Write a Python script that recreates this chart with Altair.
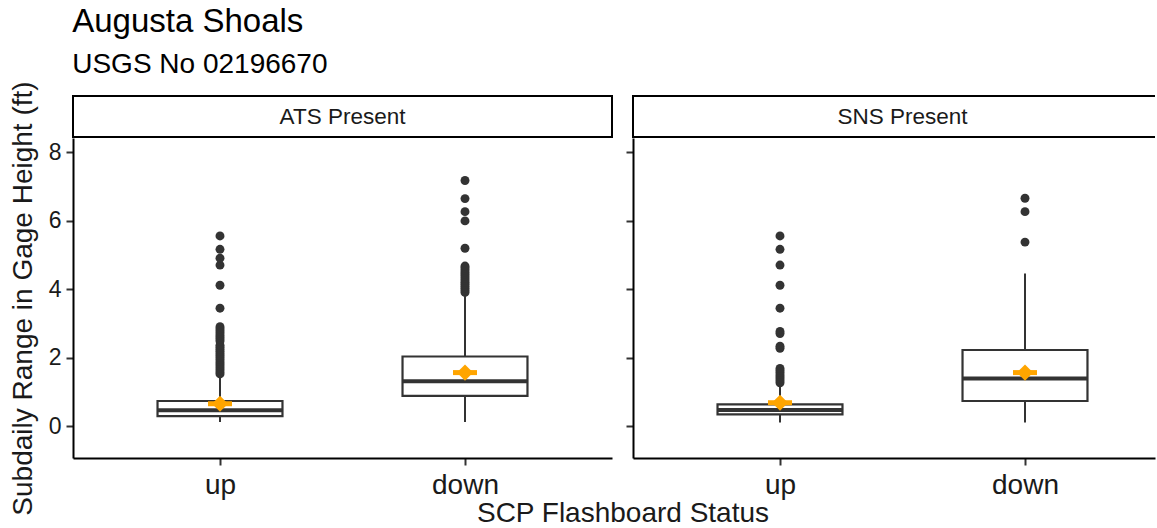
import altair as alt
import pandas as pd

FONT = "Liberation Sans"

panels = ["ATS Present", "SNS Present"]
groups = ["up", "down"]

# box summaries per panel, ordered as in `groups`
q1 = [[0.29, 0.88], [0.34, 0.73]]
median = [[0.46, 1.31], [0.47, 1.39]]
q3 = [[0.73, 2.03], [0.63, 2.22]]
whisker_lo = [[0.12, 0.12], [0.10, 0.10]]
whisker_hi = [[1.49, 3.85], [1.16, 4.45]]
mean = [[0.65, 1.56], [0.68, 1.56]]

# points beyond the whiskers
outliers_ats_up = [1.52, 1.58, 1.64, 1.70, 1.76, 1.82, 1.88, 1.94, 2.00, 2.06,
                   2.12, 2.18, 2.24, 2.30, 2.36, 2.48, 2.54, 2.60, 2.66, 2.72,
                   2.78, 2.84, 2.90, 3.44, 4.11, 4.70, 4.90, 5.16, 5.55]
outliers_ats_down = [3.90, 3.96, 4.02, 4.08, 4.14, 4.20, 4.26, 4.32, 4.38, 4.44,
                     4.50, 4.56, 4.62, 4.67, 5.19, 5.99, 6.26, 6.64, 7.17]
outliers_sns_up = [1.26, 1.32, 1.38, 1.44, 1.50, 1.56, 1.62, 1.68, 2.27, 2.33,
                   2.70, 2.76, 3.44, 4.11, 4.70, 5.16, 5.55]
outliers_sns_down = [5.37, 6.26, 6.65]

outliers = [[outliers_ats_up, outliers_ats_down],
            [outliers_sns_up, outliers_sns_down]]

y_ticks = [0, 2, 4, 6, 8]
y_domain = [-0.934, 8.41]

PANEL_W = 539      # full panel width in px
PANEL_H = 320
BOX_HALF = 0.255   # half box width, x units
MEAN_HALF = 0.049  # half width of the mean bar, x units
INK = "#333333"
TEXT = "#1a1a1a"


def panel(i, width, first):
    pos = [1, 2]
    summ = pd.DataFrame({
        "group": groups,
        "pos": pos,
        "xl": [p - BOX_HALF for p in pos],
        "xr": [p + BOX_HALF for p in pos],
        "ml": [p - MEAN_HALF for p in pos],
        "mr": [p + MEAN_HALF for p in pos],
        "q1": q1[i], "median": median[i], "q3": q3[i],
        "lo": whisker_lo[i], "hi": whisker_hi[i], "mean": mean[i],
    })
    pts = pd.DataFrame(
        [{"pos": pos[g], "value": v} for g in range(2) for v in outliers[i][g]]
    )

    xs = alt.Scale(domain=[0.4, 0.4 + 2.2 * width / PANEL_W], nice=False, zero=False)
    ys = alt.Scale(domain=y_domain, nice=False, zero=False)
    label_expr = "[" + ",".join(f"'{g}'" for g in groups) + "][datum.value - 1]"
    xaxis = alt.Axis(
        values=pos, labelExpr=label_expr, labelFontSize=28, labelColor=TEXT,
        labelFont=FONT, labelPadding=6, tickSize=7, tickWidth=2, tickColor=INK,
        domainColor="black", domainWidth=2, grid=False,
        title="SCP Flashboard Status" if first else None,
        titleFont=FONT, titleFontSize=28, titleFontWeight="normal", titleColor=TEXT,
        titleX=(PANEL_W * 2 + 21) / 2, titleY=63, titleBaseline="alphabetic",
        titleAlign="center", titleAnchor="start",
    )
    yaxis = alt.Axis(
        values=y_ticks, labels=first, labelFontSize=23, labelColor=TEXT,
        labelFont=FONT, labelPadding=5, tickSize=7, tickWidth=2, tickColor=INK,
        domainColor="black", domainWidth=2, grid=False,
        title="Subdaily Range in Gage Height (ft)" if first else None,
        titleFont=FONT, titleFontSize=28, titleFontWeight="normal", titleColor=TEXT,
        titlePadding=11,
    )

    def X(f):
        return alt.X(f, type="quantitative", scale=xs, axis=xaxis)

    def Y(f):
        return alt.Y(f, type="quantitative", scale=ys, axis=yaxis)

    base = alt.Chart(summ)
    whisk = base.mark_rule(color=INK, strokeWidth=2).encode(
        x=X("pos"), y=Y("lo"), y2="hi")
    box = base.mark_rect(fill="white", stroke=INK, strokeWidth=2.2).encode(
        x=X("xl"), x2="xr", y=Y("q1"), y2="q3")
    med = base.mark_rule(color=INK, strokeWidth=4).encode(
        x=X("xl"), x2="xr", y=Y("median"))
    dots = alt.Chart(pts).mark_circle(size=80, color=INK, opacity=1).encode(
        x=X("pos"), y=Y("value"))
    mbar = base.mark_rule(color="#FFA500", strokeWidth=5).encode(
        x=X("ml"), x2="mr", y=Y("mean"))
    mdot = base.mark_point(shape="diamond", filled=True, size=260,
                           color="#FFA500", opacity=1).encode(
        x=X("pos"), y=Y("mean"))

    # facet strip drawn above the plot area
    lab = alt.Chart(pd.DataFrame({"label": [panels[i]]}))
    strip_bg = lab.mark_rect(fill="white").encode(
        x=alt.value(0), x2=alt.value(width), y=alt.value(-42), y2=alt.value(-1))
    strip_top = lab.mark_rule(color="black", strokeWidth=2).encode(
        x=alt.value(0), x2=alt.value(width), y=alt.value(-42))
    strip_bot = lab.mark_rule(color="black", strokeWidth=2).encode(
        x=alt.value(0), x2=alt.value(width), y=alt.value(-1))
    strip_l = lab.mark_rule(color="black", strokeWidth=2).encode(
        x=alt.value(0), y=alt.value(-43), y2=alt.value(0))
    strip_txt = lab.mark_text(font=FONT, fontSize=22.5, color=TEXT,
                              baseline="middle").encode(
        x=alt.value(PANEL_W / 2), y=alt.value(-21), text="label:N")
    layers = [whisk, box, med, dots, mbar, mdot, strip_bg, strip_top, strip_bot,
              strip_l, strip_txt]
    if width >= PANEL_W:
        layers.append(lab.mark_rule(color="black", strokeWidth=2).encode(
            x=alt.value(width), y=alt.value(-43), y2=alt.value(0)))
    return alt.layer(*layers).properties(width=width, height=PANEL_H)


left = panel(0, PANEL_W, True)
right = panel(1, 522, False)

chart = alt.hconcat(left, right, spacing=21, bounds="flush").properties(
    title=alt.TitleParams(
        "Augusta Shoals", subtitle="USGS No 02196670", anchor="start",
        font=FONT, fontSize=33, fontWeight="normal", color="black",
        subtitleFont=FONT, subtitleFontSize=28, subtitleColor="black",
        subtitlePadding=12, offset=2, dx=63,
    ),
    padding={"left": 9, "top": 5, "right": 0, "bottom": 0},
).configure_view(stroke=None)

chart.save("out.html", embed_options={"renderer": "svg", "actions": False})
